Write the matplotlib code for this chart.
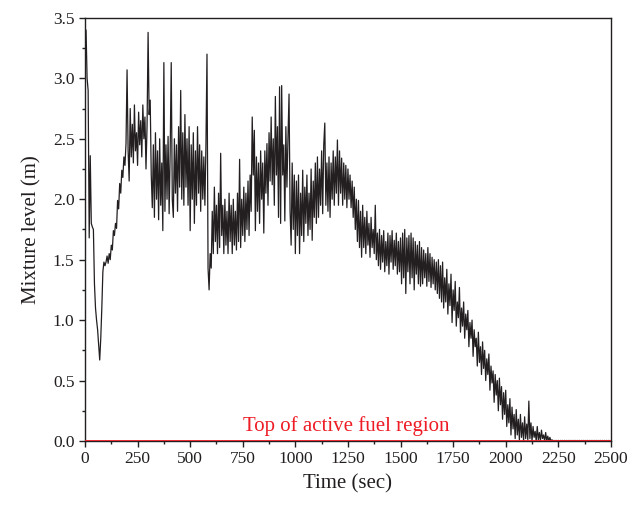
import numpy as np
import matplotlib
matplotlib.use("Agg")
import matplotlib.pyplot as plt
from matplotlib.ticker import MultipleLocator

# Mixture level, one value every 5 s (0 .. 2500 s)
time_sec = np.arange(0, 2505, 5)
mixture_level = [
    # 0 - 95
    3.20, 3.40, 3.00, 2.90, 1.68, 2.36, 1.80, 1.77, 1.75, 1.30,
    1.10, 1.00, 0.92, 0.80, 0.67, 0.85, 1.10, 1.40, 1.48, 1.45,
    # 100 - 195
    1.48, 1.53, 1.47, 1.55, 1.50, 1.62, 1.58, 1.74, 1.70, 1.80,
    1.76, 1.99, 1.92, 2.13, 2.05, 2.24, 2.18, 2.35, 2.28, 2.46,
    # 200 - 295
    3.07, 2.40, 2.15, 2.75, 2.35, 2.62, 2.30, 2.78, 2.40, 2.55,
    2.28, 2.72, 2.45, 2.65, 2.35, 2.78, 2.50, 2.68, 2.25, 2.60,
    # 300 - 395
    3.38, 2.70, 2.82, 2.20, 1.93, 2.45, 1.85, 2.55, 2.00, 2.40,
    1.83, 2.50, 1.95, 2.30, 1.74, 3.13, 1.90, 2.45, 2.00, 2.52,
    # 400 - 495
    1.88, 2.40, 3.13, 2.00, 1.85, 2.50, 2.05, 2.45, 1.90, 2.60,
    2.10, 2.90, 2.00, 2.55, 1.95, 2.70, 2.10, 2.50, 1.95, 2.60,
    # 500 - 595
    1.74, 2.45, 2.00, 2.55, 1.80, 2.40, 1.95, 2.60, 2.05, 2.45,
    1.90, 2.40, 2.00, 2.35, 1.95, 2.45, 3.20, 1.43, 1.25, 1.55,
    # 600 - 695
    1.43, 1.90, 1.55, 2.10, 1.65, 1.95, 1.55, 2.05, 1.60, 2.38,
    1.70, 1.95, 1.55, 2.00, 1.62, 1.90, 1.55, 2.05, 1.65, 1.95,
    # 700 - 795
    1.55, 2.00, 1.62, 1.90, 1.58, 2.05, 1.65, 2.33, 1.60, 2.00,
    1.70, 2.10, 1.65, 2.05, 1.75, 2.15, 1.70, 2.20, 1.90, 2.68,
    # 800 - 895
    2.20, 2.57, 1.74, 2.35, 1.90, 2.30, 1.80, 2.40, 2.00, 2.30,
    1.72, 2.40, 2.05, 2.46, 1.95, 2.55, 2.15, 2.68, 2.12, 2.50,
    # 900 - 995
    1.95, 2.85, 2.20, 2.60, 1.85, 2.93, 1.80, 2.94, 2.20, 2.45,
    1.82, 2.60, 2.10, 2.51, 2.87, 1.90, 1.62, 2.30, 1.75, 2.20,
    # 1000 - 1095
    1.55, 2.15, 1.70, 2.20, 1.55, 2.05, 1.70, 2.24, 1.65, 2.10,
    1.80, 2.20, 1.70, 2.05, 1.75, 2.25, 1.66, 2.15, 1.85, 2.30,
    # 1100 - 1195
    1.80, 2.35, 1.85, 2.25, 1.95, 2.40, 1.88, 2.45, 2.63, 1.95,
    2.30, 1.90, 2.35, 1.85, 2.30, 2.00, 2.40, 1.95, 2.35, 2.05,
    # 1200 - 1295
    2.49, 1.95, 2.40, 2.05, 2.34, 1.95, 2.30, 2.00, 2.28, 1.93,
    2.25, 2.00, 2.20, 1.93, 2.15, 1.85, 2.10, 1.75, 2.00, 1.65,
    # 1300 - 1395
    1.99, 1.60, 1.90, 1.52, 1.95, 1.60, 1.85, 1.55, 1.90, 1.62,
    1.80, 1.52, 1.85, 1.60, 1.75, 1.55, 1.95, 1.50, 1.72, 1.45,
    # 1400 - 1495
    1.75, 1.42, 1.70, 1.48, 1.74, 1.40, 1.65, 1.45, 1.72, 1.38,
    1.70, 1.48, 1.74, 1.42, 1.66, 1.45, 1.72, 1.38, 1.65, 1.40,
    # 1500 - 1595
    1.68, 1.30, 1.72, 1.35, 1.75, 1.22, 1.68, 1.40, 1.70, 1.30,
    1.72, 1.35, 1.68, 1.25, 1.65, 1.38, 1.62, 1.30, 1.65, 1.28,
    # 1600 - 1695
    1.60, 1.30, 1.58, 1.35, 1.55, 1.28, 1.60, 1.32, 1.55, 1.27,
    1.52, 1.30, 1.50, 1.25, 1.48, 1.22, 1.50, 1.18, 1.45, 1.15,
    # 1700 - 1795
    1.48, 1.10, 1.35, 1.15, 1.42, 1.05, 1.30, 1.12, 1.38, 0.98,
    1.25, 1.08, 1.32, 0.95, 1.15, 1.02, 1.27, 0.90, 1.10, 0.95,
    # 1800 - 1895
    1.15, 0.85, 1.05, 0.92, 1.08, 0.78, 0.98, 0.85, 1.00, 0.70,
    0.92, 0.78, 0.85, 0.62, 0.90, 0.65, 0.78, 0.55, 0.82, 0.60,
    # 1900 - 1995
    0.75, 0.50, 0.68, 0.55, 0.72, 0.42, 0.62, 0.48, 0.58, 0.32,
    0.55, 0.38, 0.50, 0.25, 0.52, 0.30, 0.45, 0.18, 0.40, 0.22,
    # 2000 - 2095
    0.42, 0.12, 0.30, 0.15, 0.35, 0.05, 0.28, 0.10, 0.22, 0.02,
    0.26, 0.05, 0.18, 0.01, 0.22, 0.03, 0.15, 0.00, 0.20, 0.02,
    # 2100 - 2195
    0.14, 0.01, 0.33, 0.02, 0.15, 0.00, 0.12, 0.03, 0.08, 0.00,
    0.12, 0.01, 0.07, 0.00, 0.09, 0.02, 0.05, 0.00, 0.07, 0.00,
    # 2200 - 2295
    0.04, 0.00, 0.03, 0.00, 0.01, 0.00, 0.005, 0.00, 0.005, 0.00,
    0.005, 0.00, 0.005, 0.00, 0.005, 0.00, 0.005, 0.00, 0.005, 0.00,
    # 2300 - 2395
    0.005, 0.00, 0.005, 0.00, 0.005, 0.00, 0.005, 0.00, 0.005, 0.00,
    0.005, 0.00, 0.005, 0.00, 0.005, 0.00, 0.005, 0.00, 0.005, 0.00,
    # 2400 - 2500
    0.005, 0.00, 0.005, 0.00, 0.005, 0.00, 0.005, 0.00, 0.005, 0.00,
    0.005, 0.00, 0.005, 0.00, 0.005, 0.00, 0.005, 0.00, 0.005, 0.00,
    0.00,
]
taf_level = 0.0
taf_label = "Top of active fuel region"

plt.rcParams["font.family"] = ["Liberation Serif", "DejaVu Serif"]
text_col = "#231f20"

fig = plt.figure(figsize=(6.39, 5.11), dpi=100)
ax = fig.add_axes([0.133, 0.137, 0.823, 0.828])

ax.plot(time_sec, mixture_level, color="#231f20", lw=0.9, zorder=2)
ax.axhline(taf_level, color="#ee1c25", lw=1.3, zorder=3)
ax.text(1240, 0.08, taf_label, color="#ee1c25", fontsize=15,
        ha="center", va="baseline")

ax.set_xlim(0, 2500)
ax.set_ylim(0, 3.5)
ax.xaxis.set_major_locator(MultipleLocator(250))
ax.xaxis.set_minor_locator(MultipleLocator(125))
ax.yaxis.set_major_locator(MultipleLocator(0.5))
ax.yaxis.set_minor_locator(MultipleLocator(0.25))
ax.yaxis.set_major_formatter(plt.FuncFormatter(lambda v, p: f"{v:.1f}"))

ax.tick_params(which="both", direction="out", colors=text_col,
               labelsize=12.5, top=False, right=False)
ax.tick_params(which="major", length=4, width=1)
ax.tick_params(which="minor", length=2.5, width=1)
for s in ax.spines.values():
    s.set_color(text_col)
    s.set_linewidth(1)

ax.set_xlabel("Time (sec)", fontsize=15, color=text_col, labelpad=5)
ax.set_ylabel("Mixture level (m)", fontsize=15, color=text_col, labelpad=8)

fig.savefig("out.png", dpi=100)
